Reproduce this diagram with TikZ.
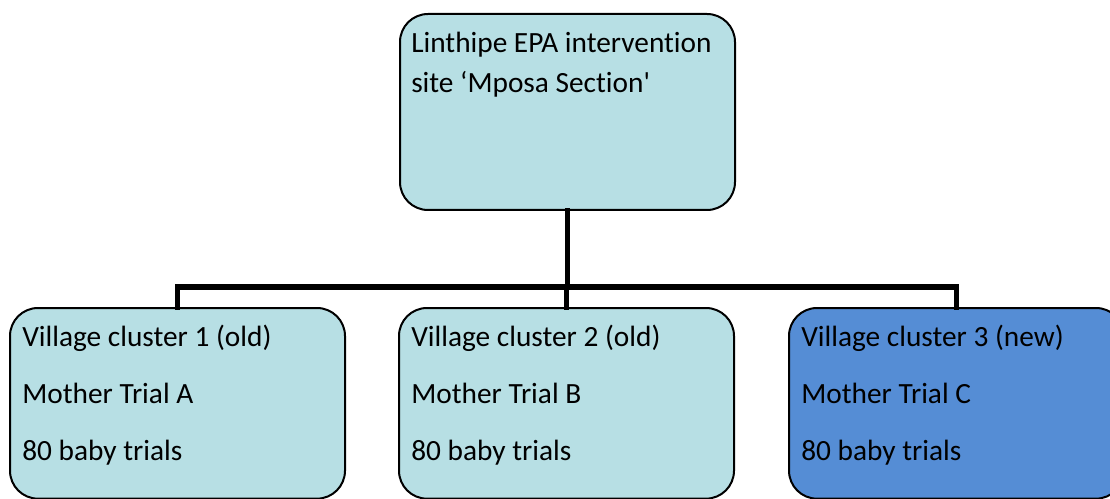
\documentclass[tikz,border=0pt]{standalone}
\usepackage{fontspec}
\setmainfont[Ligatures={TeX,NoCommon}]{Carlito}
\usetikzlibrary{positioning}
\definecolor{aquabox}{HTML}{B7DFE4}
\definecolor{newbox}{HTML}{558DD5}
\tikzstyle{box} = [rectangle, rounded corners=21pt, draw=black, line width=1.5pt,
minimum width=251.25pt, inner sep=0pt, fill=aquabox]
\tikzstyle{txt} = [align=left, inner sep=0pt, anchor=north west]
\tikzstyle{conn} = [line width=4.2pt, line cap=rect]
\begin{document}
\begin{tikzpicture}[x=0.75pt, y=-0.75pt, font=\fontsize{22}{26}\selectfont]
    \clip (0,0) rectangle (1110,499);
    % boxes
    \node[box, minimum height=147pt, anchor=north west] (site) at (399,13) {};
    \node[box, minimum height=143pt, anchor=north west] (vcone) at (9,307) {};
    \node[box, minimum height=143pt, anchor=north west] (vctwo) at (398,307) {};
    \node[box, minimum height=143pt, anchor=north west, fill=newbox] (vcthree) at (788,307) {};
    % texts
    \node[txt, font=\fontsize{22}{30}\selectfont] (sitetext) at (411,32)
        {Linthipe EPA intervention\\site ‘Mposa Section\textquotesingle};
    \begin{scope}[font=\fontsize{22}{42.5}\selectfont]
        \node[txt] (vconetext) at (22,325) {Village cluster 1 (old)\\Mother Trial A\\80 baby trials};
        \node[txt] (vctwotext) at (411,325) {Village cluster 2 (old)\\Mother Trial B\\80 baby trials};
        \node[txt] (vcthreetext) at (801,325) {Village cluster 3 (new)\\Mother Trial C\\80 baby trials};
    \end{scope}
    % connectors
    \coordinate (bus) at (566,287);
    \draw[conn] (site.south) -- (site.south |- bus);
    \draw[conn] (vcone.north) |- (bus) -| (vcthree.north);
    \draw[conn] (vctwo.north) -- (vctwo.north |- bus);
\end{tikzpicture}
\end{document}
